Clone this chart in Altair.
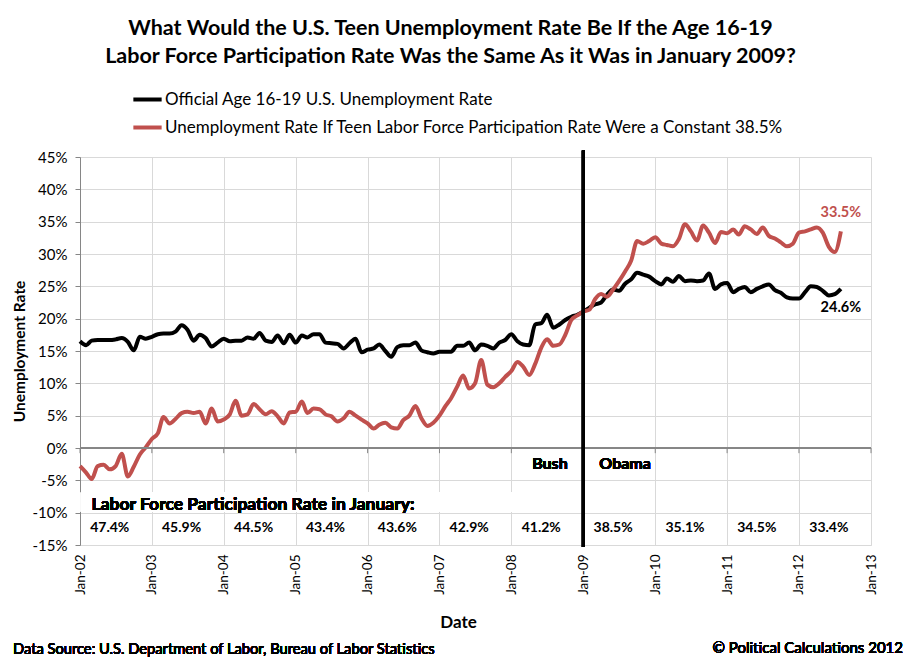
import altair as alt
import pandas as pd

FONT = "Lato"

months = pd.date_range("2002-01-01", "2012-08-01", freq="MS").strftime("%Y-%m-%dT00:00").tolist()

official_rate = [
    16.5, 15.9, 16.6, 16.7, 16.7, 16.7, 16.8, 17.0, 16.4, 15.1, 17.2, 16.9,
    17.2, 17.6, 17.7, 17.7, 18.0, 19.0, 18.3, 16.6, 17.5, 17.0, 15.7, 16.3,
    16.9, 16.5, 16.6, 16.6, 17.1, 16.9, 17.8, 16.6, 16.4, 17.4, 16.2, 17.5,
    16.3, 17.4, 17.1, 17.6, 17.6, 16.3, 16.2, 16.1, 15.4, 16.2, 16.9, 14.8,
    15.2, 15.4, 16.0, 15.0, 14.1, 15.6, 15.9, 15.9, 16.3, 15.1, 14.8, 14.6,
    14.9, 14.9, 14.9, 15.8, 15.8, 16.3, 15.1, 16.0, 15.8, 15.4, 16.3, 16.7,
    17.6, 16.5, 16.0, 15.9, 19.1, 19.3, 20.6, 18.6, 19.1, 19.8, 20.3, 20.6,
    21.1, 21.7, 22.2, 22.5, 23.7, 24.5, 24.3, 25.4, 26.1, 27.1, 26.8, 26.5,
    25.8, 25.3, 26.2, 25.7, 26.6, 25.8, 25.9, 25.8, 25.9, 27.0, 24.6, 25.3,
    25.5, 24.1, 24.6, 24.9, 24.1, 24.6, 25.0, 25.3, 24.4, 24.0, 23.3, 23.1,
    23.1, 24.1, 25.0, 24.9, 24.3, 23.6, 23.8, 24.6,
]

constant_rate = [
    -2.8, -3.8, -4.8, -2.8, -2.6, -3.3, -2.8, -0.9, -4.4, -2.9, -1.0, 0.1,
    1.4, 2.3, 4.8, 3.8, 4.5, 5.4, 5.6, 5.4, 5.6, 3.8, 6.1, 4.1,
    4.4, 5.2, 7.3, 5.0, 5.2, 6.8, 6.0, 5.2, 5.7, 4.9, 3.8, 5.5,
    5.6, 7.2, 5.4, 6.1, 6.0, 5.2, 4.9, 4.1, 4.6, 5.6, 5.0, 4.4,
    3.8, 3.0, 3.6, 3.9, 3.2, 3.0, 4.3, 5.0, 6.5, 4.6, 3.4, 3.9,
    5.0, 6.5, 7.7, 9.5, 11.2, 9.2, 10.0, 13.6, 9.8, 9.4, 10.0, 11.0,
    11.9, 13.3, 12.6, 11.3, 13.0, 15.5, 16.8, 15.8, 16.0, 17.5, 19.8, 20.5,
    21.1, 21.4, 23.0, 23.8, 23.4, 24.5, 25.8, 27.3, 29.0, 32.0, 31.6, 32.0,
    32.6, 31.6, 31.4, 31.2, 32.3, 34.6, 33.5, 32.1, 34.4, 33.3, 31.7, 33.4,
    33.2, 33.8, 33.0, 34.3, 33.8, 33.1, 34.1, 32.8, 32.4, 31.8, 31.2, 31.6,
    33.3, 33.5, 33.8, 34.1, 33.3, 31.1, 30.3, 33.5,
]

series_names = [
    "Official Age 16-19 U.S. Unemployment Rate",
    "Unemployment Rate If Teen Labor Force Participation Rate Were a Constant 38.5%",
]
series_colors = ["#000000", "#C0504D"]

years = list(range(2002, 2014))
participation_years = list(range(2002, 2013))
participation_labels = ["47.4%", "45.9%", "44.5%", "43.4%", "43.6%", "42.9%",
                        "41.2%", "38.5%", "35.1%", "34.5%", "33.4%"]

lines_df = pd.DataFrame({
    "date": months * 2,
    "rate": official_rate + constant_rate,
    "series": [series_names[0]] * len(months) + [series_names[1]] * len(months),
})
red_end = pd.DataFrame({"date": [months[-1]], "rate": [constant_rate[-1]],
                        "label": [f"{constant_rate[-1]:.1f}%"]})
black_end = pd.DataFrame({"date": [months[-1]], "rate": [official_rate[-1]],
                          "label": [f"{official_rate[-1]:.1f}%"]})
part_df = pd.DataFrame({
    "date": [f"{y}-06-01T00:00" for y in participation_years],
    "label": participation_labels,
})
ticks_df = pd.DataFrame({"date": [f"{y}-01-01T00:00" for y in years]})

x_scale = alt.Scale(domain=[alt.DateTime(year=2002, month=1, date=1),
                            alt.DateTime(year=2013, month=1, date=1)])
y_scale = alt.Scale(domain=[-15, 45], nice=False, zero=False)

x_enc = alt.X(
    "date:T", scale=x_scale,
    axis=alt.Axis(
        values=[alt.DateTime(year=y, month=1, date=1) for y in years],
        format="%b-%y", labelAngle=-90, labelPadding=9, labelFontSize=13.5,
        labelOverlap=False, ticks=False, title="Date", titleFontSize=17,
        titlePadding=20, titleX=378, titleAlign="center",
    ),
)
y_enc = alt.Y(
    "rate:Q", scale=y_scale,
    axis=alt.Axis(
        tickCount=12, labelExpr="datum.value + '%'",
        labelFontSize=15, labelPadding=8, labelOverlap=False, labelSeparation=0,
        tickSize=5, tickColor="#868686", domainColor="#868686",
        title="Unemployment Rate", titleFontSize=15.5, titlePadding=5,
    ),
)

lines = alt.Chart(lines_df).mark_line(strokeWidth=4, interpolate="monotone").encode(
    x=x_enc,
    y=y_enc,
    color=alt.Color(
        "series:N",
        scale=alt.Scale(domain=series_names, range=series_colors),
        legend=alt.Legend(
            title=None, orient="none", legendX=51, legendY=-74,
            symbolType="stroke", symbolStrokeWidth=4, symbolSize=800,
            labelFontSize=17, labelFont=FONT, labelLimit=900, labelOffset=1,
            rowPadding=3,
        ),
    ),
)

# white text box behind the participation heading (hides the gridlines there)
text_box = alt.Chart(ticks_df).mark_rect(color="white").encode(
    x=alt.datum(alt.DateTime(year=2002, month=1, date=5)),
    x2=alt.datum(alt.DateTime(year=2008, month=12, date=25)),
    y=alt.datum(-6.9), y2=alt.datum(-9.85),
)

zero_line = alt.Chart(ticks_df).mark_rule(color="#868686", strokeWidth=1).encode(
    x=alt.datum(alt.DateTime(year=2002, month=1, date=1)),
    x2=alt.datum(alt.DateTime(year=2013, month=1, date=1)),
    y=alt.datum(0),
)
zero_ticks = alt.Chart(ticks_df).mark_rule(color="#868686", strokeWidth=1).encode(
    x="date:T", y=alt.datum(0), y2=alt.datum(-0.8),
)

divider = alt.Chart(ticks_df).mark_rule(color="black", strokeWidth=3).encode(
    x=alt.datum(alt.DateTime(year=2009, month=1, date=1)),
    y=alt.datum(46.0), y2=alt.datum(-15.3),
)

bush = alt.Chart(ticks_df).mark_text(font=FONT, fontSize=16, fontWeight="bold").encode(
    x=alt.datum(alt.DateTime(year=2008, month=7, date=15)), y=alt.datum(-2.5),
    text=alt.value("Bush"),
)
obama = alt.Chart(ticks_df).mark_text(font=FONT, fontSize=16, fontWeight="bold").encode(
    x=alt.datum(alt.DateTime(year=2009, month=8, date=1)), y=alt.datum(-2.5),
    text=alt.value("Obama"),
)
part_title = alt.Chart(ticks_df).mark_text(
    font=FONT, fontSize=17.5, fontWeight="bold", align="left"
).encode(
    x=alt.datum(alt.DateTime(year=2002, month=3, date=1)), y=alt.datum(-8.8),
    text=alt.value("Labor Force Participation Rate in January:"),
)
part_values = alt.Chart(part_df).mark_text(font=FONT, fontSize=14, fontWeight="bold").encode(
    x="date:T", y=alt.datum(-12.4), text="label:N",
)
red_label = alt.Chart(red_end).mark_text(
    font=FONT, fontSize=14.5, fontWeight="bold", color=series_colors[1], dy=-18
).encode(x="date:T", y="rate:Q", text="label:N")
black_label = alt.Chart(black_end).mark_text(
    font=FONT, fontSize=14.5, fontWeight="bold", color=series_colors[0], dy=19
).encode(x="date:T", y="rate:Q", text="label:N")

source = alt.Chart(ticks_df).mark_text(font=FONT, fontSize=14.7, align="left").encode(
    x=alt.value(-67), y=alt.value(493),
    text=alt.value("Data Source: U.S. Department of Labor, Bureau of Labor Statistics"),
)
credit = alt.Chart(ticks_df).mark_text(font=FONT, fontSize=15, align="right").encode(
    x=alt.value(823), y=alt.value(491),
    text=alt.value("\u00a9 Political Calculations 2012"),
)

chart = alt.layer(
    lines, text_box, zero_line, zero_ticks, divider, bush, obama, part_title,
    part_values, red_label, black_label, source, credit,
).properties(
    width=791,
    height=388,
    autosize=alt.AutoSizeParams(type="none"),
    padding={"left": 72, "top": 149, "right": 37, "bottom": 114},
    title=alt.Title(
        text=[
            "What Would the U.S. Teen Unemployment Rate Be If the Age 16-19",
            "Labor Force Participation Rate Was the Same As it Was in January 2009?",
        ],
        font=FONT, fontSize=21.5, fontWeight="bold", anchor="middle",
        lineHeight=28, dx=-25, dy=24, offset=40,
    ),
).configure_axis(
    labelFont=FONT, titleFont=FONT, labelColor="black", titleColor="black",
    titleFontWeight="bold", gridColor="#D9D9D9", domainColor="#D9D9D9",
).configure_axisY(
    labelOverlap=False,
).configure_view(
    stroke=None,
)

chart.save("out.html", embed_options={"renderer": "svg", "actions": False})
